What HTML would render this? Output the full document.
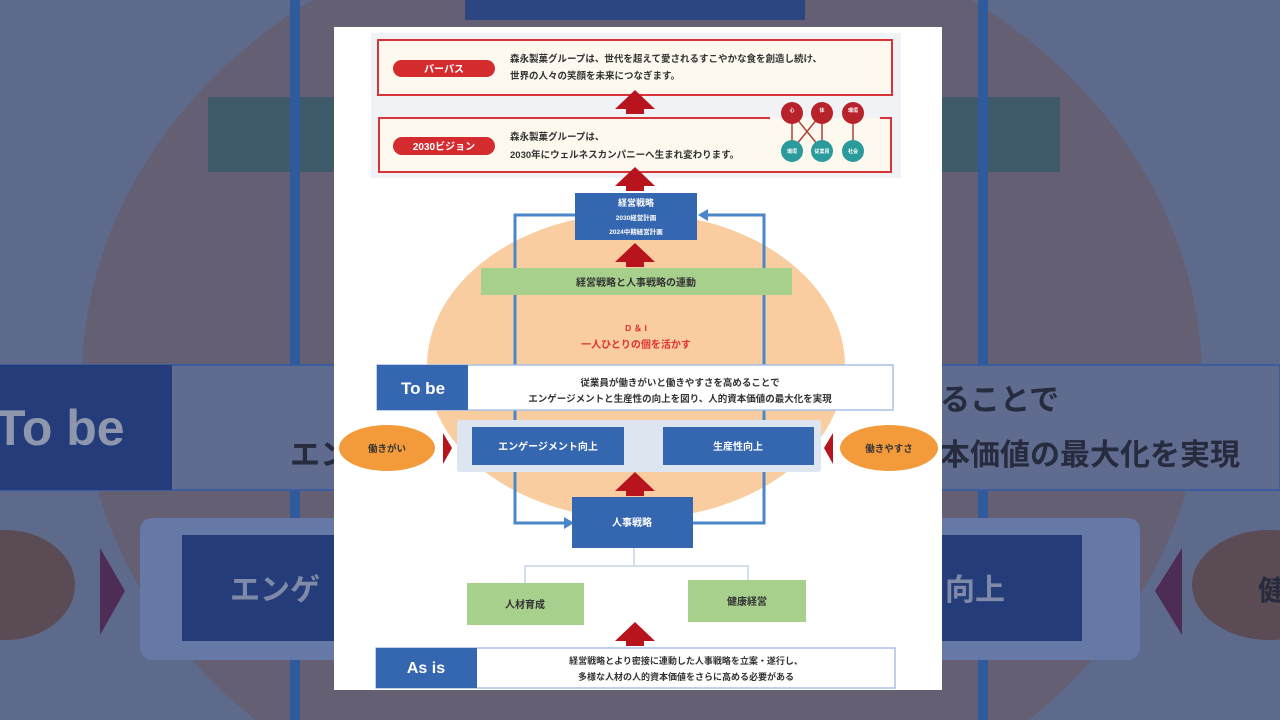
<!DOCTYPE html>
<html><head><meta charset="utf-8"><style>
html,body{margin:0;padding:0;background:#5d6a8c;width:1280px;height:720px;overflow:hidden;}
svg{display:block;position:absolute;left:0;top:0;}
text{font-family:"Liberation Sans","Noto Sans CJK JP",sans-serif;font-weight:bold;}
</style></head><body>
<svg width="1280" height="720" viewBox="0 0 1280 720" xmlns="http://www.w3.org/2000/svg">
<rect width="1280" height="720" fill="#5d6a8c"/>
<ellipse cx="642" cy="380" rx="560" ry="470" fill="#655f73"/>
<rect x="465" y="0" width="340" height="20" fill="#2b4682"/>
<rect x="208" y="97" width="852" height="75" fill="#3f5a6b"/>
<rect x="290" y="0" width="10" height="720" fill="#2f5b9c"/>
<rect x="978" y="0" width="10" height="720" fill="#2f5b9c"/>
<rect x="0" y="365" width="1280" height="125" fill="#5f6b8f" stroke="#3b5ca0" stroke-width="2"/>
<rect x="0" y="365" width="172" height="125" fill="#243d7a"/>
<text x="-5" y="445" font-size="50" fill="#8f97ad" font-weight="normal">To be</text>
<text x="290" y="465" font-size="30" fill="#262b3d">エン</text>
<text x="940" y="410" font-size="30" fill="#262b3d">ることで</text>
<text x="940" y="465" font-size="30" fill="#262b3d">本価値の最大化を実現</text>
<rect x="140" y="518" width="1000" height="142" rx="12" fill="#6678a6"/>
<rect x="182" y="535" width="900" height="106" fill="#243d7a"/>
<text x="230" y="600" font-size="30" fill="#7f8aa8">エンゲ</text>
<text x="945" y="600" font-size="30" fill="#7f8aa8">向上</text>
<ellipse cx="5" cy="585" rx="70" ry="55" fill="#5b4b55"/>
<ellipse cx="1270" cy="585" rx="78" ry="55" fill="#5b4b55"/>
<polygon points="100,548 125,591 100,635" fill="#4d2c55"/>
<polygon points="1182,548 1155,591 1182,635" fill="#4d2c55"/>
<text x="1258" y="600" font-size="28" fill="#262b3d">健</text>

<rect x="334" y="27" width="608" height="663" fill="#ffffff"/>
<rect x="371" y="33" width="530" height="145" fill="#f0f2f5"/>
<rect x="378" y="40" width="514" height="55" fill="#fdf9ee" stroke="#d9333a" stroke-width="2"/>
<rect x="393" y="60" width="102" height="17" rx="8.5" fill="#d42b2f"/>
<text x="444" y="72.5" font-size="10" fill="#fff" text-anchor="middle">パーパス</text>
<text x="510" y="62" font-size="9.5" fill="#333">森永製菓グループは、世代を超えて愛されるすこやかな食を創造し続け、</text>
<text x="510" y="79" font-size="9.5" fill="#333">世界の人々の笑顔を未来につなぎます。</text>
<rect x="378" y="118" width="514" height="54" fill="#fdf9ee"/>
<path d="M770 118 H379 V172 H891 V118 H880" fill="none" stroke="#d9333a" stroke-width="2"/>
<rect x="393" y="137" width="102" height="18" rx="9" fill="#d42b2f"/>
<text x="444" y="150" font-size="10" fill="#fff" text-anchor="middle">2030ビジョン</text>
<text x="510" y="140" font-size="9.5" fill="#333">森永製菓グループは、</text>
<text x="510" y="158" font-size="9.5" fill="#333">2030年にウェルネスカンパニーへ生まれ変わります。</text>
<g stroke="#b0403c" stroke-width="1.5">
<line x1="792" y1="113" x2="792" y2="150"/><line x1="792" y1="113" x2="822" y2="150"/>
<line x1="822" y1="113" x2="792" y2="150"/><line x1="822" y1="113" x2="822" y2="150"/>
<line x1="853" y1="113" x2="853" y2="150"/></g>
<g fill="#b8222b"><circle cx="792" cy="113" r="11"/><circle cx="822" cy="113" r="11"/><circle cx="853" cy="113" r="11"/></g>
<g fill="#2a9a9a"><circle cx="792" cy="151" r="11"/><circle cx="822" cy="151" r="11"/><circle cx="853" cy="151" r="11"/></g>
<g font-size="5" fill="#fff" text-anchor="middle"><text x="792" y="112">心</text><text x="822" y="112">体</text><text x="853" y="112">環境</text>
<text x="792" y="153">環境</text><text x="822" y="153">従業員</text><text x="853" y="153">社会</text></g>
<defs><g id="ar"><polygon points="-20,10 0,-9 20,10 9,10 9,15 -9,15 -9,10" fill="#b8141d"/></g></defs>
<use href="#ar" x="635" y="99"/>
<use href="#ar" x="635" y="176"/>
<ellipse cx="636" cy="366" rx="209" ry="153" fill="#f9cda0"/>
<g fill="none" stroke="#4a86c8" stroke-width="3">
<path d="M575 215 H515 V523 H566"/>
<path d="M693 523 H764 V215 H705"/></g>
<polygon points="574,523 564,517 564,529" fill="#4a86c8"/>
<polygon points="698,215 708,209 708,221" fill="#4a86c8"/>
<rect x="575" y="193" width="122" height="47" fill="#3566b0"/>
<text x="636" y="206" font-size="9" fill="#fff" text-anchor="middle">経営戦略</text>
<text x="636" y="220" font-size="6.5" fill="#fff" text-anchor="middle">2030経営計画</text>
<text x="636" y="234" font-size="6.5" fill="#fff" text-anchor="middle">2024中期経営計画</text>
<use href="#ar" x="635" y="252"/>
<rect x="481" y="268" width="311" height="27" fill="#a7d08c"/>
<text x="636" y="286" font-size="10" fill="#333" text-anchor="middle">経営戦略と人事戦略の連動</text>
<text x="636" y="331" font-size="8.5" fill="#e0322f" text-anchor="middle">D ＆ I</text>
<text x="636" y="348" font-size="10" fill="#e0322f" text-anchor="middle">一人ひとりの個を活かす</text>
<rect x="377" y="365" width="516" height="45" fill="#fff" stroke="#a9c2e6" stroke-width="1.5"/>
<rect x="377" y="365" width="91" height="45" fill="#3566b0"/>
<text x="423" y="394" font-size="17" fill="#fff" text-anchor="middle" font-weight="normal">To be</text>
<text x="680" y="386" font-size="9.5" fill="#333" text-anchor="middle">従業員が働きがいと働きやすさを高めることで</text>
<text x="680" y="402" font-size="9.5" fill="#333" text-anchor="middle">エンゲージメントと生産性の向上を図り、人的資本価値の最大化を実現</text>
<rect x="457" y="420" width="364" height="52" rx="3" fill="#dce5f0"/>
<rect x="472" y="427" width="152" height="38" fill="#3566b0"/>
<rect x="663" y="427" width="151" height="38" fill="#3566b0"/>
<text x="548" y="450" font-size="10" fill="#fff" text-anchor="middle">エンゲージメント向上</text>
<text x="738" y="450" font-size="10" fill="#fff" text-anchor="middle">生産性向上</text>
<ellipse cx="387" cy="448" rx="48" ry="23" fill="#f39a3a"/>
<ellipse cx="889" cy="448" rx="49" ry="23" fill="#f39a3a"/>
<text x="387" y="452" font-size="9.5" fill="#333" text-anchor="middle">働きがい</text>
<text x="889" y="452" font-size="9.5" fill="#333" text-anchor="middle">働きやすさ</text>
<polygon points="443,433 452,448 443,464" fill="#b8141d"/>
<polygon points="833,433 824,448 833,464" fill="#b8141d"/>
<use href="#ar" x="635" y="481"/>
<rect x="572" y="497" width="121" height="51" fill="#3566b0"/>
<text x="632" y="526" font-size="10" fill="#fff" text-anchor="middle">人事戦略</text>
<path d="M634 548 V566 M525 583 V566 H748 V580" fill="none" stroke="#c5d5e8" stroke-width="1.5"/>
<rect x="467" y="583" width="117" height="42" fill="#a7d08c"/>
<rect x="688" y="580" width="118" height="42" fill="#a7d08c"/>
<text x="525" y="608" font-size="10" fill="#333" text-anchor="middle">人材育成</text>
<text x="747" y="605" font-size="10" fill="#333" text-anchor="middle">健康経営</text>
<use href="#ar" x="635" y="631"/>
<rect x="376" y="648" width="519" height="40" fill="#fff" stroke="#a9c2e6" stroke-width="1.5"/>
<rect x="376" y="648" width="101" height="40" fill="#3566b0"/>
<text x="426" y="673" font-size="16" fill="#fff" text-anchor="middle" font-weight="normal">As is</text>
<text x="686" y="664" font-size="9" fill="#333" text-anchor="middle">経営戦略とより密接に連動した人事戦略を立案・遂行し、</text>
<text x="686" y="680" font-size="9" fill="#333" text-anchor="middle">多様な人材の人的資本価値をさらに高める必要がある</text>
</svg>
</body></html>
